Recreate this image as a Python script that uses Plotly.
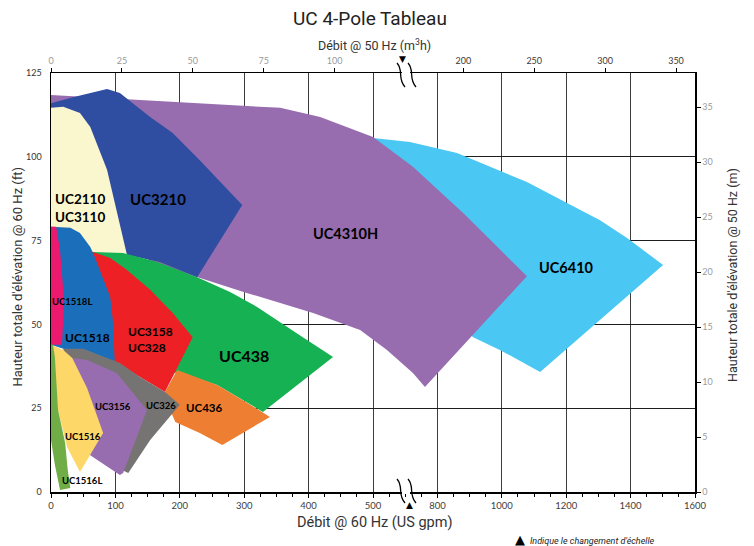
import plotly.graph_objects as go

# ---------------- data ----------------
gpm_ticks = [0, 100, 200, 300, 400, 500, 800, 1000, 1200, 1400, 1600]
m3h_ticks = [0, 25, 50, 75, 100, 200, 250, 300, 350]
ft_ticks = [0, 25, 50, 75, 100, 125]
m_ticks = [0, 5, 10, 15, 20, 25, 30, 35]

# pump coverage areas: flow (US gpm) and head (ft)
uc6410_gpm = [500, 672, 861, 1078, 1305, 1389, 1501, 1305, 1119, 994, 911, 765, 579]
uc6410_ft = [105.6, 104.4, 101.1, 92.5, 81.1, 75.8, 67.7, 51.3, 35.8, 42.4, 46.2, 57.3, 81.1]

uc4310h_gpm = [0, 134, 231, 356, 418, 500, 686, 880, 1078, 742, 686, 565, 480, 407, 304, 231, 154, 76, 0]
uc4310h_ft = [118.4, 116.9, 115.8, 114.6, 111.9, 105.9, 97.0, 83.2, 64.4, 31.3, 35.5, 42.4, 48.3, 53.4, 59.4, 63.8, 68.6, 87.5, 114.6]

uc3210_gpm = [0, 34, 87, 107, 127, 154, 189, 231, 297, 227, 169, 118, 76, 0]
uc3210_ft = [116.0, 117.8, 120.2, 119.0, 116.0, 111.9, 107.1, 99.0, 85.6, 64.1, 68.6, 70.7, 87.2, 102.0]

uc2110_gpm = [0, 19, 45, 61, 87, 104, 118, 0]
uc2110_ft = [114.6, 114.9, 113.1, 108.9, 96.1, 82.6, 70.7, 70.7]

uc438_gpm = [65, 112, 165, 227, 278, 320, 391, 415, 438, 329, 298, 258, 196, 169, 107]
uc438_ft = [71.6, 71.3, 68.6, 64.1, 59.7, 55.2, 46.2, 43.3, 40.3, 23.9, 27.4, 31.9, 35.8, 33.4, 57.3]

uc3158_gpm = [61, 92, 118, 154, 189, 220, 177, 138, 99, 76]
uc3158_ft = [71.9, 69.8, 66.2, 60.3, 53.4, 46.2, 29.8, 34.3, 38.8, 57.3]

uc436_gpm = [177, 196, 258, 298, 340, 266, 231, 193, 185]
uc436_ft = [29.8, 36.4, 31.9, 27.4, 22.4, 14.0, 17.6, 20.9, 24.5]

uc1518_gpm = [0, 30, 45, 61, 68, 87, 92, 96, 99, 53, 25, 0]
uc1518_ft = [79.1, 78.8, 77.3, 73.1, 70.1, 60.3, 58.2, 51.3, 38.8, 42.4, 42.4, 43.9]

uc1518l_gpm = [0, 8, 14, 19, 19, 17, 0]
uc1518l_ft = [79.1, 79.1, 72.2, 60.3, 51.3, 43.9, 43.9]

uc326_gpm = [19, 50, 107, 138, 177, 200, 154, 120, 110, 76, 22]
uc326_ft = [42.7, 42.7, 38.5, 34.3, 29.8, 26.0, 15.5, 5.7, 6.6, 21.5, 39.4]

uc3156_gpm = [33, 56, 102, 149, 112, 107, 61, 45, 30]
uc3156_ft = [40.0, 39.4, 35.5, 24.5, 5.7, 5.1, 11.0, 25.0, 38.0]

uc1516_gpm = [0, 19, 33, 56, 81, 45, 25, 11, 3]
uc1516_ft = [43.9, 42.4, 40.0, 31.0, 17.6, 6.0, 13.4, 24.5, 40.3]

uc1516l_gpm = [0, 3, 6, 11, 22, 26, 30, 14, 6, 0]
uc1516l_ft = [43.9, 43.9, 40.3, 24.5, 14.6, 6.6, 1.2, 0.6, 8.1, 15.5]

areas = [
    (uc6410_gpm, uc6410_ft, "#4AC7F3"),
    (uc4310h_gpm, uc4310h_ft, "#976DAF"),
    (uc3210_gpm, uc3210_ft, "#304EA1"),
    (uc2110_gpm, uc2110_ft, "#FAF6CE"),
    (uc438_gpm, uc438_ft, "#15B153"),
    (uc3158_gpm, uc3158_ft, "#ED2125"),
    (uc436_gpm, uc436_ft, "#EE7F32"),
    (uc1518_gpm, uc1518_ft, "#1B6FBA"),
    (uc1518l_gpm, uc1518l_ft, "#EB1A6F"),
    (uc326_gpm, uc326_ft, "#767473"),
    (uc3156_gpm, uc3156_ft, "#976DAF"),
    (uc1516_gpm, uc1516_ft, "#FDD768"),
    (uc1516l_gpm, uc1516l_ft, "#70AD47"),
]

# labels: text, flow (gpm), head (ft), font size, anchor
labels = [
    ("UC2110<br>UC3110", 45, 84.7, 13.5, "center"),
    ("UC3210", 166, 87.4, 15, "center"),
    ("UC4310H", 457, 77.0, 14.5, "center"),
    ("UC6410", 1202, 67.1, 14.5, "center"),
    ("UC438", 300, 40.6, 16, "center"),
    ("UC3158<br>UC328", 116, 45.6, 12, "left"),
    ("UC1518", 56, 46.2, 12, "center"),
    ("UC1518L", 33, 56.7, 9.5, "center"),
    ("UC3156", 96, 25.4, 9.5, "center"),
    ("UC326", 171, 25.7, 9.5, "center"),
    ("UC436", 238, 25.1, 11.5, "center"),
    ("UC1516", 50, 16.7, 9.5, "center"),
    ("UC1516L", 48, 3.3, 9.5, "center"),
]

M3H_TO_GPM = 4.4029
FT_PER_M = 3.28084
BREAK_POS = 5.5


def gpm_to_pos(g):
    """Position on the broken flow axis (one grid cell per unit)."""
    if g <= 500:
        return g / 100.0
    if g <= 800:
        return 5 + (g - 500) / 300.0
    return 6 + (g - 800) / 200.0


NARROW = "Roboto, Liberation Sans Narrow, sans-serif"
LABEL_FONT = "Lato, Calibri, sans-serif"

fig = go.Figure()
for gx, fy, col in areas:
    fig.add_trace(go.Scatter(
        x=[gpm_to_pos(g) for g in gx], y=fy, fill="toself", mode="lines",
        line=dict(width=0, color=col), fillcolor=col, hoverinfo="skip",
        showlegend=False))

# invisible trace on the secondary axes so they render
fig.add_trace(go.Scatter(x=[0], y=[0], xaxis="x2", yaxis="y2", mode="markers",
                         marker=dict(size=1, opacity=0), showlegend=False,
                         hoverinfo="skip"))

top_text = []
for v in m3h_ticks:
    c = "#9a9a9a" if v <= 100 else "#3a3a3a"
    top_text.append(f"<span style='color:{c}'>{v}</span>")

fig.update_layout(
    width=754, height=546,
    margin=dict(l=51, r=59, t=73, b=54),
    paper_bgcolor="white", plot_bgcolor="white",
    showlegend=False,
    xaxis=dict(
        range=[0, 10], tickvals=[gpm_to_pos(g) for g in gpm_ticks],
        ticktext=[str(g) for g in gpm_ticks],
        showgrid=True, gridcolor="#3c3c3c", gridwidth=1,
        showline=True, linecolor="black", linewidth=1.5,
        ticks="outside", ticklen=4, tickcolor="black",
        minor=dict(dtick=0.25, tick0=0, ticks="outside", ticklen=3,
                   tickcolor="black", showgrid=False),
        tickfont=dict(family=LABEL_FONT, size=9.5, color="#404040"),
        zeroline=False, fixedrange=True, automargin=False),
    xaxis2=dict(
        overlaying="x", side="top", range=[0, 10],
        tickvals=[gpm_to_pos(v * M3H_TO_GPM) for v in m3h_ticks],
        ticktext=top_text, showgrid=False,
        showline=True, linecolor="black", linewidth=1.5,
        ticks="outside", ticklen=4, tickcolor="black",
        tickfont=dict(family=LABEL_FONT, size=9),
        zeroline=False, automargin=False),
    yaxis=dict(
        range=[0, 125], tickvals=ft_ticks, ticktext=[str(v) for v in ft_ticks],
        showgrid=True, gridcolor="#1e1e1e", gridwidth=1,
        showline=True, linecolor="black", linewidth=1.5,
        ticks="", ticklabelstandoff=6,
        tickfont=dict(family=LABEL_FONT, size=9, color="#333333"),
        zeroline=False, automargin=False),
    yaxis2=dict(
        overlaying="y", side="right", range=[0, 125 / FT_PER_M],
        tickvals=m_ticks, ticktext=[str(v) for v in m_ticks],
        showgrid=False, showline=True, linecolor="black", linewidth=1.5,
        ticks="outside", ticklen=4, tickcolor="black",
        tickfont=dict(family=LABEL_FONT, size=9, color="#9a9a9a"),
        zeroline=False, automargin=False),
)

ann = []
for text, g, f, size, anchor in labels:
    ann.append(dict(x=gpm_to_pos(g), y=f, xref="x", yref="y", text=f"<b>{text}</b>",
                    showarrow=False, xanchor=anchor, yanchor="middle",
                    align=anchor if anchor != "center" else "center",
                    font=dict(family=LABEL_FONT, size=size, color="black")))

# titles
ann += [
    dict(text="UC 4-Pole Tableau", x=0.495, y=1.131, xref="paper", yref="paper",
         showarrow=False, xanchor="center", yanchor="middle",
         font=dict(family=NARROW, size=19, color="#222222")),
    dict(text="Débit @ 50 Hz (m<sup>3</sup>h)", x=0.502, y=1.066, xref="paper", yref="paper",
         showarrow=False, xanchor="center", yanchor="middle",
         font=dict(family=NARROW, size=12.5, color="#333333")),
    dict(text="Débit @ 60 Hz (US gpm)", x=0.502, y=-0.072, xref="paper", yref="paper",
         showarrow=False, xanchor="center", yanchor="middle",
         font=dict(family=NARROW, size=14.5, color="#333333")),
    dict(text="Hauteur totale d'élévation @ 60 Hz (ft)", x=-0.052, y=0.513,
         xref="paper", yref="paper", showarrow=False, textangle=-90,
         xanchor="center", yanchor="middle",
         font=dict(family=NARROW, size=13, color="#333333")),
    dict(text="Hauteur totale d'élévation @ 50 Hz (m)", x=1.059, y=0.518,
         xref="paper", yref="paper", showarrow=False, textangle=-90,
         xanchor="center", yanchor="middle",
         font=dict(family=NARROW, size=12.5, color="#333333")),
    dict(text="▲", x=0.718, y=-0.114, xref="paper", yref="paper", showarrow=False,
         xanchor="left", yanchor="middle", font=dict(family="DejaVu Sans", size=13, color="black")),
    dict(text="<i>Indique le changement d'échelle</i>", x=0.74, y=-0.116,
         xref="paper", yref="paper", showarrow=False, xanchor="left", yanchor="middle",
         font=dict(family=NARROW, size=9, color="#222222")),
    # break markers
    dict(text="▼", x=BREAK_POS - 0.04, y=1.033, xref="x", yref="paper", showarrow=False,
         xanchor="center", yanchor="middle", font=dict(family="DejaVu Sans", size=9, color="black")),
    dict(text="▲", x=BREAK_POS + 0.06, y=-0.031, xref="x", yref="paper", showarrow=False,
         xanchor="center", yanchor="middle", font=dict(family="DejaVu Sans", size=9, color="black")),
]
fig.update_layout(annotations=ann)


# break squiggles (pixel -> paper helpers for decoration only)
def px(xp):
    return (xp - 51) / 644.0


def py(yp):
    return (492 - yp) / 419.0


def squiggle(x0, y0, x1, y1):
    return (f"M {px(x0)},{py(y0)} C {px(x0 + 7)},{py(y0 + 8)} {px(x1 - 8)},{py(y1 - 9)} "
            f"{px(x1)},{py(y1)}")


shapes = []
for base_y in (73, 492):
    shapes.append(dict(type="rect", xref="paper", yref="paper",
                       x0=px(402), x1=px(410), y0=py(base_y + 2), y1=py(base_y - 2),
                       fillcolor="white", line=dict(width=0), layer="above"))
for (ya, yb) in ((63, 87), (479, 503)):
    for dx in (0, 11):
        shapes.append(dict(type="path", xref="paper", yref="paper",
                           path=squiggle(397 + dx, ya, 405 + dx, yb),
                           line=dict(color="black", width=1.3), layer="above"))
fig.update_layout(shapes=shapes)

fig.write_html("out.html",
               config={"displayModeBar": False, "staticPlot": True},
               post_script="document.body.style.margin='0';document.body.style.padding='0';")
